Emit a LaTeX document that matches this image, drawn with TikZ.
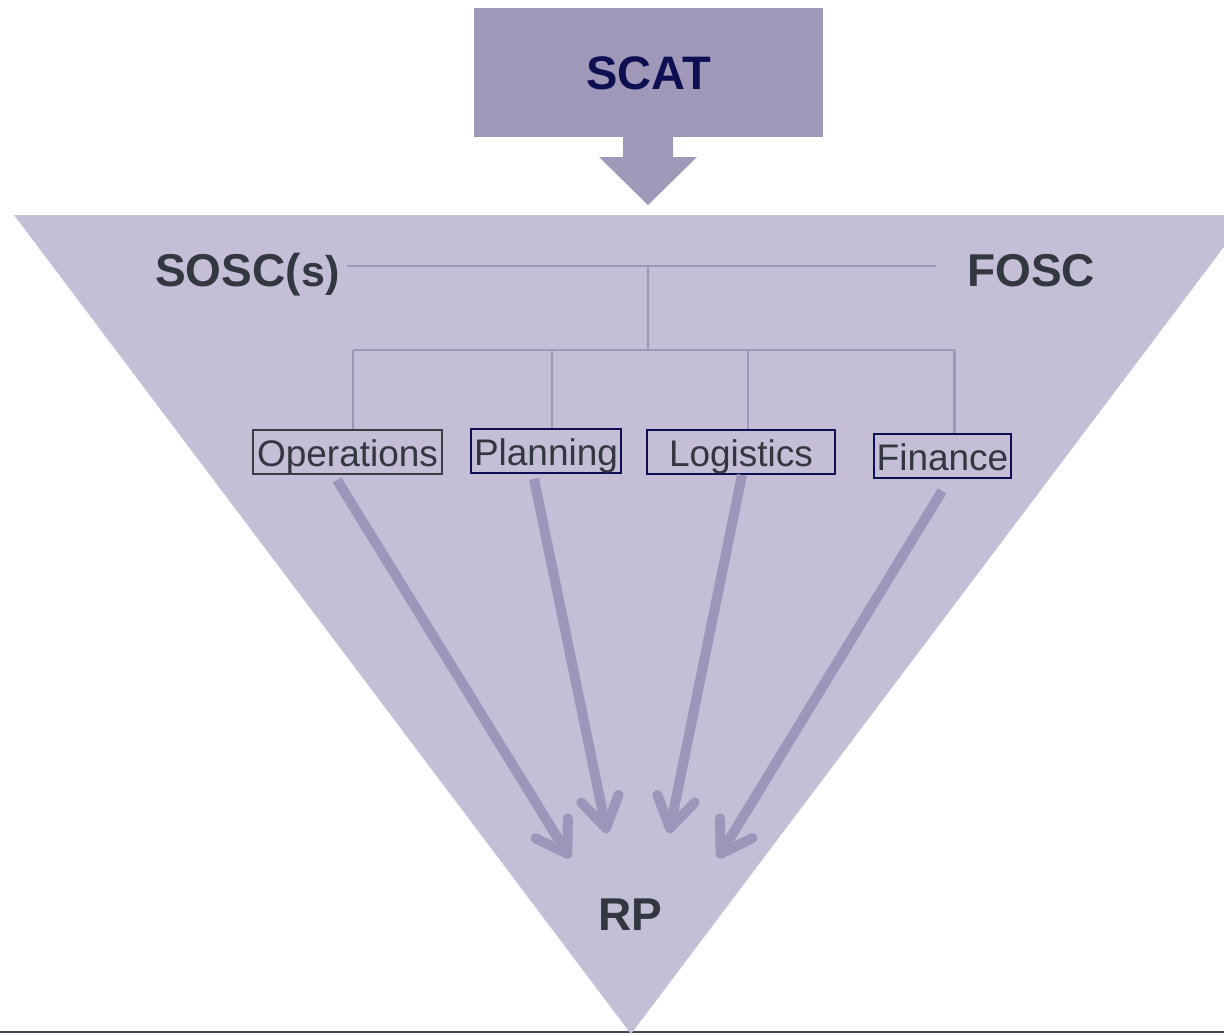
\documentclass[tikz,border=0pt]{standalone}
\usepackage{fontspec}
\setmainfont{Liberation Sans}
\usetikzlibrary{arrows.meta,calc}
\definecolor{funnel}{HTML}{C4BED6}
\definecolor{block}{HTML}{A098B8}
\definecolor{wire}{HTML}{9F97BA}
\definecolor{ink}{HTML}{33373F}
\definecolor{navy}{HTML}{0E0F52}
\definecolor{greyframe}{HTML}{3C3C44}
\definecolor{flowarrow}{HTML}{9D96BA}
\definecolor{baserule}{HTML}{45405A}
\begin{document}
\begin{tikzpicture}[x=1pt,y=-1pt,
  heading/.style={font=\bfseries\fontsize{46}{46}\selectfont, text=ink, inner sep=0pt},
  section/.style={draw=navy, line width=1.3pt, inner sep=0pt, text=ink,
    font=\fontsize{37}{37}\selectfont, text height=28pt, text depth=0pt,
    minimum height=44pt},
  wireline/.style={draw=wire, line width=2.2pt},
  flow/.style={draw=flowarrow, line width=10pt,
    -{Straight Barb[length=30pt,width=38pt,round]}}
]
\useasboundingbox (0,0) rectangle (1224,1036);
\clip (0,0) rectangle (1224,1036);

% base rule and funnel
\draw[baserule, line width=2pt] (0,1032) -- (1224,1032);
\fill[funnel] (14,215) -- (1248,215) -- (631,1034) -- cycle;

% SCAT block with its down arrow
\node[fill=block, minimum width=349pt, minimum height=129pt, inner sep=0pt,
  text=navy, font=\bfseries\fontsize{47}{47}\selectfont,
  text height=34pt, text depth=0pt] (scat) at (648.5,72.5) {SCAT};
\fill[block] (623,136) -- (673,136) -- (673,157) -- (697,157) -- (648,205)
  -- (599,157) -- (623,157) -- cycle;

% headings
\node[heading, anchor=base west] (sosc) at (155,286)
  {SOSC(\kern1pt{\fontsize{43}{43}\selectfont s)}};
\node[heading, anchor=base west] (fosc) at (967,286) {FOSC};
\node[heading, anchor=base] (rp) at (630,930) {RP};

% section boxes
\node[section, draw=greyframe, minimum width=189pt] (ops) at (347.5,452) {Operations};
\node[section, minimum width=150pt] (plan) at (546,451) {Planning};
\node[section, minimum width=188pt] (logi) at (741,452) {Logistics};
\node[section, minimum width=137pt] (fin) at (942.5,456) {Finance};

% tree connectors
\coordinate (hubL) at (347,266);
\coordinate (hubR) at (936,266);
\coordinate (hub) at (648,266);
\coordinate (bus) at (648,350);
\coordinate (busL) at (353,350);
\coordinate (busR) at (954.5,350);
\coordinate (busP) at (552,350);
\coordinate (busG) at (748,350);
\draw[wireline] (hubL) -- (hubR);
\draw[wireline] (hub) -- (bus);
\draw[wireline] (busL) -- (busR);
\draw[wireline] (busL) -- (busL |- ops.north);
\draw[wireline] (busP) -- (busP |- plan.north);
\draw[wireline] (busG) -- (busG |- logi.north);
\draw[wireline] (busR) -- (busR |- fin.north);

% flow arrows towards RP
\coordinate (s1) at (337,480);
\coordinate (s2) at (534,479);
\coordinate (s3) at (742,475);
\coordinate (s4) at (942,491);
\coordinate (t1) at (570,858);
\coordinate (t2) at (607,833);
\coordinate (t3) at (669,833);
\coordinate (t4) at (718,858);
\draw[flow] (s1) -- (t1);
\draw[flow] (s2) -- (t2);
\draw[flow] (s3) -- (t3);
\draw[flow] (s4) -- (t4);
\end{tikzpicture}
\end{document}
